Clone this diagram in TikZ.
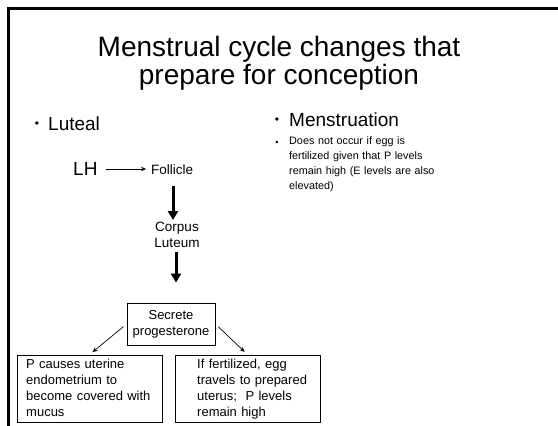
\documentclass[tikz,border=0pt]{standalone}
\usepackage{fontspec}
\setmainfont{Liberation Sans}
\usetikzlibrary{arrows.meta}

\begin{document}
\begin{tikzpicture}[x=1pt,y=-1pt,
		lbl/.style={inner sep=0pt,font=\fontsize{13.5}{16}\selectfont},
		boxtext/.style={inner sep=0pt,anchor=north west,align=left,text width=140pt,font=\fontsize{13}{16}\selectfont},
		cellbox/.style={draw,line width=0.8pt,minimum width=145pt,minimum height=67pt,inner sep=0pt},
		thinarrow/.style={-{Stealth[length=5pt,width=4.5pt]},line width=0.7pt},
		bigarrow/.style={-{Triangle[length=9pt,width=10pt]},line width=3pt}]
			\useasboundingbox (0,0) rectangle (558,426);
			\fill[white] (0,0) rectangle (558,426);
			\draw[line width=2.5pt] (558,8.5) -- (8.5,8.5) -- (8.5,426);

			% title
			\node[align=center,inner sep=0pt,font=\fontsize{28}{28}\selectfont] (title) at (279,63) {Menstrual cycle changes that\\prepare for conception};

			% left column
			\node[inner sep=0pt,font=\fontsize{12}{14}\selectfont] (dotl) at (37,125) {\textbullet};
			\node[inner sep=0pt,anchor=west,font=\fontsize{19}{20}\selectfont] (luteal) at (48,124) {Luteal};

				\node[inner sep=0pt,anchor=west,font=\fontsize{19}{20}\selectfont] (lh) at (73,169) {LH};
				\node[lbl,anchor=west] (fol) at (151,170) {Follicle};
				\node[lbl,align=center] (cor) at (177,235) {Corpus\\Luteum};
				\node[draw,line width=0.8pt,minimum width=88pt,minimum height=42pt,inner sep=0pt,align=center,font=\fontsize{13}{16}\selectfont] (sec) at (171,324) {Secrete\\progesterone};

				\draw[thinarrow,shorten <=8pt,shorten >=5pt] (lh.east) -- (lh.east -| fol.west);
				\draw[bigarrow,shorten <=11pt,shorten >=2pt] (fol.south -| 173,0) -- (cor.north -| 173,0);
				\draw[bigarrow,shorten <=4pt,shorten >=20pt] (cor.south -| 176,0) -- (sec.north -| 176,0);

				\node[cellbox] (pbox) at (89.5,388.5) {};
				\node[cellbox] (fbox) at (247.5,388.5) {};
				\node[boxtext] (ptext) at (26,359) {P causes uterine\\endometrium to\\become covered with\\mucus};
				\node[boxtext] (ftext) at (197,359) {If fertilized, egg\\travels to prepared\\uterus;\ \ P levels\\remain high};

				\draw[thinarrow,shorten <=4pt,shorten >=4pt] (sec.west) -- (pbox.north);
				\draw[thinarrow,shorten <=4pt,shorten >=4pt] (sec.east) -- (fbox.north);

			% right column
			\node[inner sep=0pt,font=\fontsize{12}{14}\selectfont] (dotr) at (277,121) {\textbullet};
			\node[inner sep=0pt,anchor=west,font=\fontsize{19}{20}\selectfont] (menst) at (289,120) {Menstruation};
			\node[inner sep=0pt,font=\fontsize{9}{15}\selectfont] (dots) at (277,143) {\textbullet};
			\node[inner sep=0pt,anchor=north west,align=left,text width=200pt,font=\fontsize{10.8}{15}\selectfont] (occur) at (289,136) {Does not occur if egg is\\fertilized given that P levels\\remain high (E levels are also\\elevated)};

		\end{tikzpicture}
\end{document}
